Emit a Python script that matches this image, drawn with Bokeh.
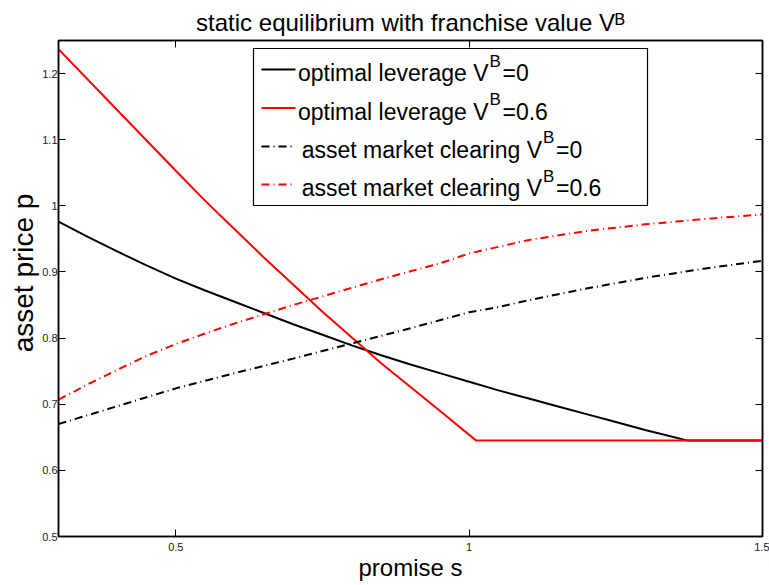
from bokeh.plotting import figure
from bokeh.models import Label, BoxAnnotation, LinearAxis, FixedTicker, NumeralTickFormatter, Range1d
from bokeh.embed import file_html
from bokeh.resources import INLINE

# ---------------- data ----------------
# optimal leverage, V^B = 0  (black solid)
s_opt0 = [0.30, 0.35, 0.40, 0.45, 0.50, 0.55, 0.60, 0.65, 0.70, 0.75, 0.80, 0.85,
          0.90, 0.95, 1.00, 1.05, 1.10, 1.15, 1.20, 1.25, 1.30, 1.373, 1.40, 1.45, 1.50]
p_opt0 = [0.976, 0.953, 0.931, 0.910, 0.890, 0.872, 0.855, 0.838, 0.821, 0.805, 0.789, 0.774,
          0.760, 0.747, 0.734, 0.721, 0.709, 0.697, 0.685, 0.673, 0.661, 0.645, 0.645, 0.645, 0.645]

# optimal leverage, V^B = 0.6  (red solid)
s_opt06 = [0.30, 0.40, 0.50, 0.545, 0.575, 0.65, 0.75, 0.85, 0.95, 1.012, 1.10, 1.20, 1.30, 1.40, 1.50]
p_opt06 = [1.237, 1.145, 1.053, 1.012, 0.986, 0.922, 0.840, 0.762, 0.690, 0.645, 0.645, 0.645,
           0.645, 0.645, 0.645]

# asset market clearing, V^B = 0  (black dash-dot)
s_amc0 = [0.30, 0.40, 0.50, 0.60, 0.70, 0.80, 0.90, 0.95, 1.00, 1.05, 1.10, 1.20, 1.30, 1.40, 1.50]
p_amc0 = [0.670, 0.697, 0.724, 0.747, 0.769, 0.792, 0.815, 0.827, 0.839, 0.847, 0.857, 0.875,
          0.891, 0.905, 0.917]

# asset market clearing, V^B = 0.6  (red dash-dot)
s_amc06 = [0.30, 0.35, 0.40, 0.45, 0.50, 0.55, 0.60, 0.65, 0.70, 0.75, 0.80, 0.85, 0.90, 0.95,
           1.00, 1.05, 1.10, 1.20, 1.30, 1.40, 1.50]
p_amc06 = [0.707, 0.730, 0.752, 0.773, 0.791, 0.807, 0.822, 0.836, 0.850, 0.863, 0.876, 0.889,
           0.901, 0.913, 0.928, 0.938, 0.948, 0.962, 0.972, 0.980, 0.987]

x_ticks = [0.5, 1.0, 1.5]
y_ticks = [0.5, 0.6, 0.7, 0.8, 0.9, 1.0, 1.1, 1.2]

legend_main = ["optimal leverage V", "optimal leverage V",
               "asset market clearing V", "asset market clearing V"]
legend_sup = ["B", "B", "B", "B"]
legend_tail = ["=0", "=0.6", "=0", "=0.6"]
legend_color = ["black", "red", "black", "red"]
legend_dash = ["solid", "solid", "8 4 1 4", "8 4 1 4"]

title_text = "static equilibrium with franchise value V\u1d2e"
xlabel = "promise s"
ylabel = "\u00a0\u00a0\u00a0\u00a0asset price p"

# ---------------- layout helpers (canvas pixel -> data) ----------------
X_MIN, X_MAX, Y_MIN, Y_MAX = 0.3, 1.5, 0.5, 1.25
FL, FR, FT, FB = 58.0, 762.0, 40.0, 536.0   # frame edges in canvas pixels


def px_x(px):
    return X_MIN + (px - FL) * (X_MAX - X_MIN) / (FR - FL)


def px_y(py):
    return Y_MIN + (FB - py) * (Y_MAX - Y_MIN) / (FB - FT)


FONT = "Liberation Sans"

p = figure(width=769, height=585, x_range=Range1d(X_MIN, X_MAX), y_range=Range1d(Y_MIN, Y_MAX),
           output_backend="svg", toolbar_location=None,
           min_border_left=58, min_border_right=7, min_border_top=40, min_border_bottom=49)
p.xgrid.visible = False
p.ygrid.visible = False
p.outline_line_color = "black"
p.outline_line_width = 1.5
p.background_fill_color = "white"
p.border_fill_color = "white"

# title
p.title.text = title_text
p.title.align = "center"
p.title.text_font = FONT
p.title.text_font_size = "24px"
p.title.text_font_style = "normal"
p.title.text_color = "black"
p.title.standoff = 9

# ---------------- curves ----------------
p.line(s_opt0, p_opt0, line_color="black", line_width=2)
p.line(s_opt06, p_opt06, line_color="red", line_width=2)
p.line(s_amc0, p_amc0, line_color="black", line_width=2, line_dash="8 4 1 4")
p.line(s_amc06, p_amc06, line_color="red", line_width=2, line_dash="8 4 1 4")


# ---------------- axes ----------------
def style_axis(ax, ticks, show_labels):
    ax.ticker = FixedTicker(ticks=ticks)
    ax.axis_line_color = "black"
    ax.axis_line_width = 1.5
    ax.major_tick_in = 7
    ax.major_tick_out = 0
    ax.minor_tick_in = 0
    ax.minor_tick_out = 0
    ax.major_tick_line_color = "black"
    ax.major_tick_line_width = 1
    ax.major_label_text_font = FONT
    ax.major_label_text_font_size = "11px"
    ax.major_label_text_color = "#1a1a1a"
    ax.formatter = NumeralTickFormatter(format="0.[0]")
    ax.axis_label_text_font = FONT
    ax.axis_label_text_font_style = "normal"
    ax.axis_label_text_color = "black"
    if not show_labels:
        ax.major_label_overrides = {t: "" for t in ticks}
        ax.major_label_standoff = 0


style_axis(p.xaxis[0], x_ticks, True)
style_axis(p.yaxis[0], y_ticks, True)
p.xaxis[0].major_label_standoff = 6
p.yaxis[0].major_label_standoff = 1
p.xaxis[0].axis_label = xlabel
p.xaxis[0].axis_label_text_font_size = "24px"
p.xaxis[0].axis_label_standoff = 0
p.yaxis[0].axis_label = ylabel
p.yaxis[0].axis_label_text_font_size = "28px"
p.yaxis[0].axis_label_standoff = 0

top_ax = LinearAxis()
style_axis(top_ax, x_ticks, False)
p.add_layout(top_ax, "above")
right_ax = LinearAxis()
style_axis(right_ax, y_ticks, False)
p.add_layout(right_ax, "right")

# ---------------- legend (drawn by hand for the superscripts) ----------------
p.add_layout(BoxAnnotation(left=px_x(253), right=px_x(647), top=px_y(48), bottom=px_y(205),
                           fill_color="white", fill_alpha=1.0, line_color="black", line_alpha=1.0,
                           line_width=1.2, level="annotation"))
row_line_y = [69.0, 107.5, 146.0, 184.0]
row_base_y = [72.7, 111.0, 149.3, 187.7]
v_end_px = [488.0, 488.0, 541.5, 541.5]
for i in range(4):
    p.segment(x0=[px_x(261)], y0=[px_y(row_line_y[i])], x1=[px_x(295)], y1=[px_y(row_line_y[i])],
              line_color=legend_color[i], line_width=2, line_dash=legend_dash[i], level="overlay")
    p.add_layout(Label(x=px_x(v_end_px[i]), y=px_y(row_base_y[i]), text=legend_main[i],
                       text_align="right", text_baseline="alphabetic", text_font=FONT,
                       text_font_size="23px", text_color="black", level="overlay"))
    p.add_layout(Label(x=px_x(v_end_px[i] + 1), y=px_y(row_base_y[i] - 12), text=legend_sup[i],
                       text_align="left", text_baseline="alphabetic", text_font=FONT,
                       text_font_size="17px", text_color="black", level="overlay"))
    p.add_layout(Label(x=px_x(v_end_px[i] + 14), y=px_y(row_base_y[i]), text=legend_tail[i],
                       text_align="left", text_baseline="alphabetic", text_font=FONT,
                       text_font_size="23px", text_color="black", level="overlay"))

open("out.html", "w").write(file_html(p, INLINE))
